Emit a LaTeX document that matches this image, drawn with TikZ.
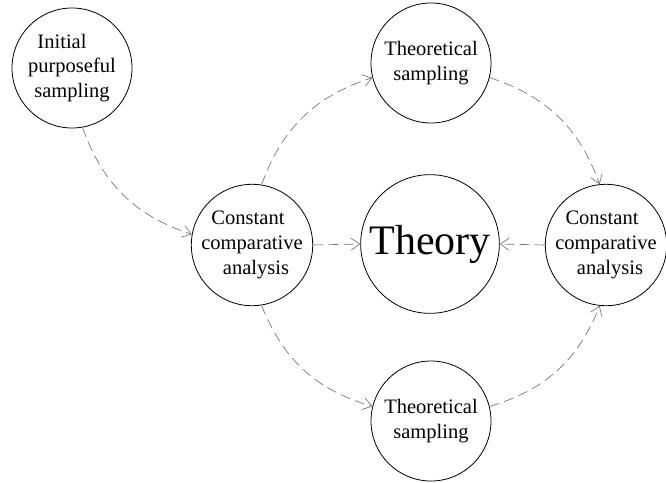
\documentclass[tikz,border=0pt]{standalone}
\usepackage{fontspec}
\setmainfont{Liberation Serif}
\usetikzlibrary{arrows.meta}
\begin{document}
\begin{tikzpicture}[x=0.75pt,y=0.75pt,
  circ/.style={draw, circle, line width=0.6pt, minimum size=90pt, inner sep=0pt, align=center, font=\fontsize{15.4}{18.5}\selectfont},
  bigcirc/.style={draw, circle, line width=0.6pt, minimum size=104pt, inner sep=0pt, font=\fontsize{31.5}{36}\selectfont},
  flow/.style={draw=black!55, line width=0.5pt, dash pattern=on 7.5pt off 4pt, -{Straight Barb[length=6.5pt,width=9pt]}}]
\useasboundingbox (0,0) rectangle (666,-482);
\node[circ] (init) at (72,-68) {Initial\kern 15pt\\purposeful\\sampling};
\node[circ] (lcca) at (252,-245) {Constant\kern 6pt\\comparative\\\kern 6pt analysis};
\node[bigcirc] (theory) at (430,-244) {Theory};
\node[circ] (tts) at (431,-63) {Theoretical\\sampling};
\node[circ] (bts) at (431,-421) {Theoretical\\sampling};
\node[circ] (rcca) at (606,-245) {Constant\kern 6pt\\comparative\\\kern 6pt analysis};
\draw[flow] (init.-80) to[bend right=26] (lcca.170);
\draw[flow] (lcca.east) -- (theory.west);
\draw[flow] (rcca.west) -- (theory.east);
\draw[flow] (lcca.81) to[bend left=26] (tts.194);
\draw[flow] (tts.-14) to[bend left=26] (rcca.96);
\draw[flow] (lcca.-81) to[bend right=26] (bts.166);
\draw[flow] (bts.14) to[bend right=26] (rcca.-96);
\end{tikzpicture}
\end{document}
